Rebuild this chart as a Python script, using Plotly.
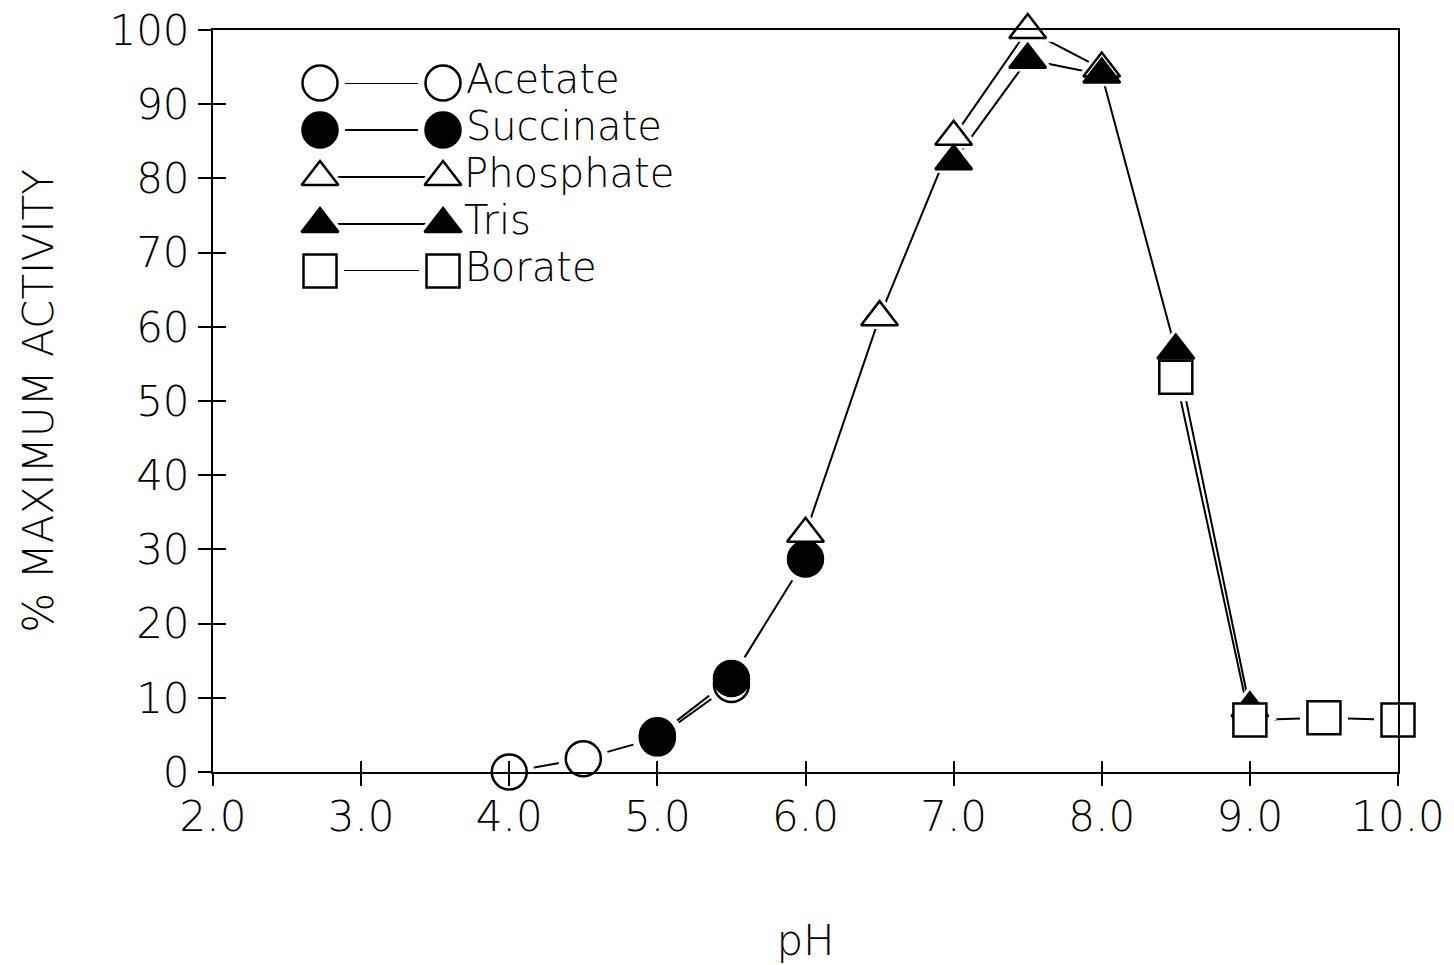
import plotly.graph_objects as go

# pH profiles of enzyme activity in different buffers
acetate_ph = [4.0, 4.5, 5.0, 5.5]
acetate_act = [0.0, 1.8, 4.6, 11.8]

succinate_ph = [5.0, 5.5, 6.0]
succinate_act = [4.9, 12.6, 28.7]

phosphate_ph = [6.0, 6.5, 7.0, 7.5, 8.0]
phosphate_act = [32.1, 61.3, 85.6, 100.0, 94.8]

tris_ph = [7.0, 7.5, 8.0, 8.5, 9.0]
tris_act = [82.3, 96.0, 94.0, 56.8, 8.6]

borate_ph = [8.5, 9.0, 9.5, 10.0]
borate_act = [53.2, 7.0, 7.3, 7.0]

buffer_names = ["Acetate", "Succinate", "Phosphate", "Tris", "Borate"]
x_tick_vals = [2, 3, 4, 5, 6, 7, 8, 9, 10]
x_tick_text = ["2.0", "3.0", "4.0", "5.0", "6.0", "7.0", "8.0", "9.0", "10.0"]
y_tick_vals = [0, 10, 20, 30, 40, 50, 60, 70, 80, 90, 100]

FONT = "DejaVu Sans"
WEIGHT = 300
INK = "black"

# symbol, fill, size per buffer
styles = {
    "Acetate": ("circle", "white", 35),
    "Succinate": ("circle", INK, 35),
    "Phosphate": ("triangle-up", "white", 32),
    "Tris": ("triangle-up", INK, 32),
    "Borate": ("square", "white", 33),
}
series = [
    ("Acetate", acetate_ph, acetate_act),
    ("Succinate", succinate_ph, succinate_act),
    ("Phosphate", phosphate_ph, phosphate_act),
    ("Tris", tris_ph, tris_act),
    ("Borate", borate_ph, borate_act),
]

fig = go.Figure()

# key rows: marker -- line -- marker, label
leg_x = [0, 1]
leg_rows = list(range(len(buffer_names)))

# 1) connecting lines
for name, xs, ys in series:
    fig.add_trace(go.Scatter(x=xs, y=ys, mode="lines", line=dict(color=INK, width=2),
                             showlegend=False, cliponaxis=False, hoverinfo="skip"))
for i, name in enumerate(buffer_names):
    fig.add_trace(go.Scatter(x=leg_x, y=[leg_rows[i]] * 2, mode="lines",
                             line=dict(color=INK, width=2), xaxis="x3", yaxis="y3",
                             showlegend=False, cliponaxis=False, hoverinfo="skip"))

# 2) white halos that open a small gap between lines and symbols
for name, xs, ys in series:
    sym, fill, size = styles[name]
    fig.add_trace(go.Scatter(x=xs, y=ys, mode="markers",
                             marker=dict(symbol=sym, size=size + 15, color="white",
                                         line=dict(width=0)),
                             showlegend=False, cliponaxis=False, hoverinfo="skip"))
for i, name in enumerate(buffer_names):
    sym, fill, size = styles[name]
    fig.add_trace(go.Scatter(x=leg_x, y=[leg_rows[i]] * 2, mode="markers",
                             marker=dict(symbol=sym, size=size + 15, color="white",
                                         line=dict(width=0)),
                             xaxis="x3", yaxis="y3",
                             showlegend=False, cliponaxis=False, hoverinfo="skip"))

# 3) symbols
for name, xs, ys in series:
    sym, fill, size = styles[name]
    fig.add_trace(go.Scatter(x=xs, y=ys, mode="markers", name=name,
                             marker=dict(symbol=sym, size=size, color=fill,
                                         line=dict(color=INK, width=2.5)),
                             showlegend=False, cliponaxis=False))
for i, name in enumerate(buffer_names):
    sym, fill, size = styles[name]
    fig.add_trace(go.Scatter(x=leg_x, y=[leg_rows[i]] * 2, mode="markers+text",
                             text=["", name], textposition="middle right",
                             textfont=dict(family=FONT, size=40, color=INK, weight=WEIGHT),
                             marker=dict(symbol=sym, size=size, color=fill,
                                         line=dict(color=INK, width=2.5)),
                             xaxis="x3", yaxis="y3",
                             showlegend=False, cliponaxis=False, hoverinfo="skip"))

# carrier for the overlaid tick axes (inner halves of crossing ticks)
fig.add_trace(go.Scatter(x=[2], y=[0], mode="markers", marker=dict(opacity=0),
                         xaxis="x2", yaxis="y2", showlegend=False, hoverinfo="skip"))

axis_common = dict(showgrid=False, zeroline=False, layer="above traces",
                   linecolor=INK, tickcolor=INK, automargin=False)

fig.update_layout(
    width=1454, height=965,
    margin=dict(l=213, r=56, t=30, b=193),
    paper_bgcolor="white", plot_bgcolor="white",
    font=dict(family=FONT, color=INK, size=42, weight=WEIGHT),
    showlegend=False,
    xaxis=dict(range=[2, 10], tickvals=x_tick_vals, ticktext=x_tick_text,
               ticks="outside", ticklen=12, tickwidth=2,
               showline=True, linewidth=2, mirror=True,
               tickfont=dict(size=42, weight=WEIGHT), ticklabelstandoff=-5,
               title=dict(text="pH", font=dict(size=42, weight=WEIGHT), standoff=105),
               **axis_common),
    yaxis=dict(range=[0, 100], tickvals=y_tick_vals,
               ticks="outside", ticklen=13, tickwidth=2,
               showline=True, linewidth=2, mirror=True,
               tickfont=dict(size=42, weight=WEIGHT), ticklabelstandoff=0,
               title=dict(text="% MAXIMUM ACTIVITY", font=dict(size=42, weight=WEIGHT),
                          standoff=43),
               **axis_common),
    xaxis2=dict(range=[2, 10], overlaying="x", anchor="y2", side="bottom",
                tickvals=x_tick_vals, ticks="inside", ticklen=11, tickwidth=2,
                showticklabels=False, showline=False, **axis_common),
    yaxis2=dict(range=[0, 100], overlaying="y", anchor="x2", side="left",
                tickvals=y_tick_vals, ticks="inside", ticklen=13, tickwidth=2,
                showticklabels=False, showline=False, **axis_common),
    # key panel
    xaxis3=dict(domain=[0.0903, 0.1941], range=[0, 1], anchor="y3", visible=False),
    yaxis3=dict(domain=[0.6752, 0.9286], range=[4, 0], anchor="x3", visible=False),
)

fig.write_html("out.html")
